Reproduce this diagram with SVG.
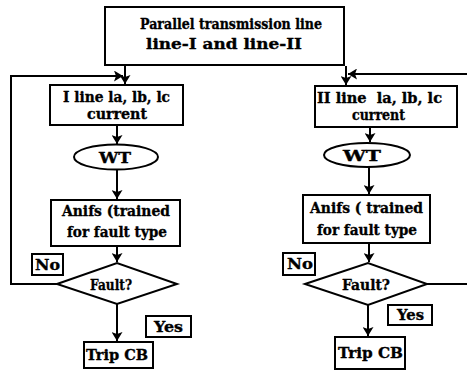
<svg xmlns="http://www.w3.org/2000/svg" width="467" height="371" viewBox="0 0 467 371">
<defs>
<marker id="ah" markerWidth="10" markerHeight="11" refX="9" refY="5.5" orient="auto" markerUnits="userSpaceOnUse">
<path d="M0,0 L9,5.5 L0,11 L2,5.5 Z" fill="#000"/>
</marker>
</defs>
<style>
.b{fill:#fff;stroke:#000;stroke-width:2}
.t{font-family:'DejaVu Serif',serif;font-weight:bold;font-size:15px;fill:#000;stroke:#000;stroke-width:0.35;text-anchor:middle;white-space:pre}
.s{font-size:14.5px}
.c{fill:none;stroke:#000;stroke-width:2}
</style>
<rect width="467" height="371" fill="#fff"/>
<g id="connectors">
<path class="c" d="M125,66 V84" marker-end="url(#ah)"/>
<path class="c" d="M346,66 V85" marker-end="url(#ah)"/>
<path class="c" d="M57,284 H11 V76 H123"/>
<path class="c" d="M111,76 H123" marker-end="url(#ah)"/>
<path class="c" d="M427,284 H467"/>
<path class="c" d="M467,74 H348"/>
<path class="c" d="M362,74 H348" marker-end="url(#ah)"/>
<path class="c" d="M117,125 V144" marker-end="url(#ah)"/>
<path class="c" d="M117,170 V199" marker-end="url(#ah)"/>
<path class="c" d="M117,246 V262" marker-end="url(#ah)"/>
<path class="c" d="M117,304 V341" marker-end="url(#ah)"/>
<path class="c" d="M370,127 V142" marker-end="url(#ah)"/>
<path class="c" d="M369,167 V194" marker-end="url(#ah)"/>
<path class="c" d="M369,243 V262" marker-end="url(#ah)"/>
<path class="c" d="M368,305 V336" marker-end="url(#ah)"/>
</g>
<g id="top">
<rect class="b" x="105" y="7" width="239" height="58"/>
<text class="t" x="231" y="29" textLength="182" lengthAdjust="spacingAndGlyphs">Parallel transmission line</text>
<text class="t" x="224" y="49" textLength="156" lengthAdjust="spacingAndGlyphs">line-I and line-II</text>
</g>
<g id="line1">
<rect class="b" x="50" y="85" width="133" height="40"/>
<text class="t s" x="116.5" y="102" textLength="107" lengthAdjust="spacingAndGlyphs">I line la, lb, lc</text>
<text class="t s" x="117" y="119" textLength="60" lengthAdjust="spacingAndGlyphs">current</text>
</g>
<g id="wt1">
<ellipse class="b" cx="116" cy="157" rx="42" ry="12.5"/>
<text class="t" x="115" y="163" textLength="32" lengthAdjust="spacingAndGlyphs">WT</text>
</g>
<g id="anifs1">
<rect class="b" x="51" y="200" width="129" height="46"/>
<text class="t" x="116" y="216" textLength="108" lengthAdjust="spacingAndGlyphs">Anifs (trained</text>
<text class="t" x="117" y="237" textLength="100" lengthAdjust="spacingAndGlyphs">for fault type</text>
</g>
<g id="fault1">
<polygon class="b" points="57,284 117,263 177,284 117,304"/>
<text class="t" x="111" y="290" textLength="42" lengthAdjust="spacingAndGlyphs">Fault?</text>
</g>
<g id="no1">
<rect class="b" x="32" y="254" width="31" height="21"/>
<text class="t" x="47.5" y="270" textLength="25" lengthAdjust="spacingAndGlyphs">No</text>
</g>
<g id="yes1">
<rect class="b" x="146" y="316" width="45" height="21"/>
<text class="t" x="168.5" y="332" textLength="29" lengthAdjust="spacingAndGlyphs">Yes</text>
</g>
<g id="trip1">
<rect class="b" x="84" y="342" width="69" height="26"/>
<text class="t" x="117" y="360" textLength="62" lengthAdjust="spacingAndGlyphs">Trip CB</text>
</g>
<g id="line2">
<rect class="b" x="315" y="86" width="142" height="41"/>
<text class="t s" x="379.5" y="103" textLength="125" lengthAdjust="spacingAndGlyphs">II line  la, lb, lc</text>
<text class="t s" x="378.5" y="120" textLength="53" lengthAdjust="spacingAndGlyphs">current</text>
</g>
<g id="wt2">
<ellipse class="b" cx="367" cy="155" rx="43" ry="12"/>
<text class="t" x="362" y="161" textLength="38" lengthAdjust="spacingAndGlyphs">WT</text>
</g>
<g id="anifs2">
<rect class="b" x="303" y="195" width="127" height="48"/>
<text class="t" x="366.5" y="213" textLength="113" lengthAdjust="spacingAndGlyphs">Anifs ( trained</text>
<text class="t" x="367" y="235" textLength="100" lengthAdjust="spacingAndGlyphs">for fault type</text>
</g>
<g id="fault2">
<polygon class="b" points="305,284 368,263 427,284 368,305"/>
<text class="t" x="366" y="290" textLength="48" lengthAdjust="spacingAndGlyphs">Fault?</text>
</g>
<g id="no2">
<rect class="b" x="283" y="253" width="32" height="22"/>
<text class="t" x="300" y="269" textLength="26" lengthAdjust="spacingAndGlyphs">No</text>
</g>
<g id="yes2">
<rect class="b" x="388" y="305" width="44" height="20"/>
<text class="t" x="410.5" y="320" textLength="27" lengthAdjust="spacingAndGlyphs">Yes</text>
</g>
<g id="trip2">
<rect class="b" x="335" y="337" width="70" height="32"/>
<text class="t" x="370.5" y="358" textLength="65" lengthAdjust="spacingAndGlyphs">Trip CB</text>
</g>
</svg>
